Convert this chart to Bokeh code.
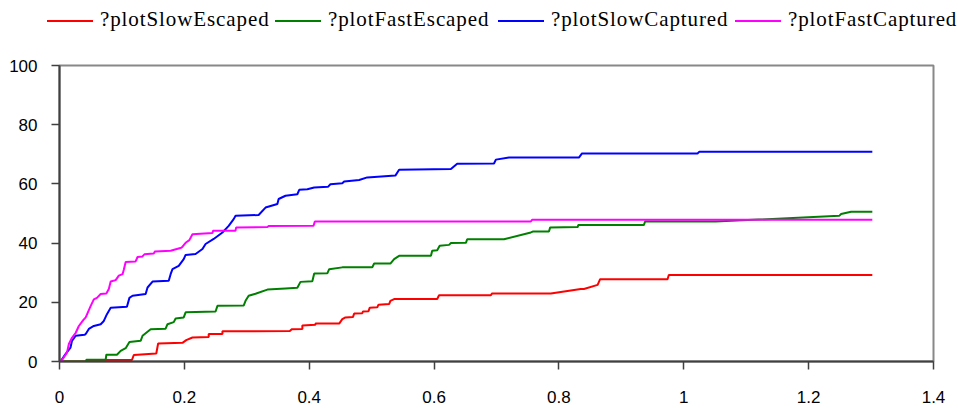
from bokeh.plotting import figure
from bokeh.layouts import column
from bokeh.models import Range1d, FixedTicker, Div
from bokeh.embed import file_html
from bokeh.resources import INLINE

# ---- data ----
series_names = ["?plotSlowEscaped", "?plotFastEscaped", "?plotSlowCaptured", "?plotFastCaptured"]
series_colors = ["#FF0000", "#008000", "#0000FF", "#FF00FF"]

slow_escaped_x = [0, 0.044, 0.046, 0.116, 0.119, 0.155, 0.158, 0.197, 0.203, 0.213, 0.239, 0.239, 0.261, 0.261,
                  0.369, 0.372, 0.389, 0.389, 0.41, 0.41, 0.448, 0.453, 0.458, 0.470, 0.472, 0.485, 0.486, 0.495,
                  0.497, 0.509, 0.511, 0.528, 0.530, 0.536, 0.605, 0.608, 0.691, 0.693, 0.787, 0.835, 0.840,
                  0.862, 0.866, 0.974, 0.976, 1.302]
slow_escaped_y = [0, 0, 0.5, 0.5, 2.2, 2.7, 6.1, 6.3, 7.2, 8.1, 8.3, 9.3, 9.3, 10.2,
                  10.3, 10.9, 11.0, 12.2, 12.4, 12.8, 12.8, 14.3, 14.9, 15.0, 16.2, 16.3, 16.9, 17.0,
                  18.2, 18.3, 19.2, 19.4, 20.5, 21.1, 21.1, 22.4, 22.4, 23.0, 23.0, 24.5, 24.5,
                  25.9, 27.8, 27.8, 29.2, 29.2]

fast_escaped_x = [0, 0.042, 0.043, 0.074, 0.075, 0.092, 0.098, 0.106, 0.112, 0.130, 0.133, 0.146, 0.170, 0.173,
                  0.183, 0.186, 0.199, 0.202, 0.250, 0.253, 0.295, 0.298, 0.303, 0.314, 0.333, 0.362, 0.381,
                  0.386, 0.405, 0.408, 0.429, 0.432, 0.453, 0.501, 0.504, 0.530, 0.536, 0.544, 0.595, 0.597,
                  0.605, 0.609, 0.624, 0.627, 0.651, 0.653, 0.712, 0.755, 0.758, 0.784, 0.786, 0.830, 0.831,
                  0.936, 0.938, 1.051, 1.249, 1.252, 1.268, 1.302]
fast_escaped_y = [0, 0, 0.6, 0.6, 2.3, 2.3, 3.6, 4.5, 6.6, 7.0, 8.7, 10.9, 11.1, 12.6,
                  13.3, 14.5, 14.9, 16.6, 16.9, 18.8, 18.9, 20.5, 22.2, 22.9, 24.3, 24.7, 24.9,
                  26.9, 27.1, 29.7, 29.8, 31.2, 31.8, 31.8, 33.1, 33.1, 34.6, 35.7, 35.7, 37.4,
                  37.6, 39.1, 39.4, 40.0, 40.1, 41.3, 41.3, 43.6, 43.9, 43.9, 45.3, 45.4, 46.1,
                  46.1, 47.3, 47.3, 49.2, 49.8, 50.6, 50.6]

slow_captured_x = [0, 0.0016, 0.0096, 0.0176, 0.020, 0.026, 0.040, 0.042, 0.047, 0.055, 0.066, 0.071, 0.076,
                   0.082, 0.108, 0.112, 0.117, 0.138, 0.141, 0.149, 0.175, 0.178, 0.181, 0.191, 0.199, 0.202,
                   0.218, 0.229, 0.234, 0.247, 0.261, 0.271, 0.279, 0.282, 0.319, 0.330, 0.349, 0.351, 0.362,
                   0.381, 0.384, 0.397, 0.408, 0.430, 0.434, 0.453, 0.456, 0.480, 0.493, 0.538, 0.544, 0.627,
                   0.637, 0.696, 0.699, 0.720, 0.832, 0.837, 1.022, 1.025, 1.302]
slow_captured_y = [0, 0, 2.5, 4.7, 7.0, 8.7, 9.0, 9.3, 11.0, 12.0, 12.6, 13.7, 16.0,
                   18.2, 18.5, 21.5, 22.2, 22.8, 25.0, 27.0, 27.3, 29.5, 31.2, 32.3, 34.6, 36.0,
                   36.3, 38.0, 39.7, 41.4, 43.6, 45.8, 48.1, 49.2, 49.5, 52.0, 53.2, 54.9, 56.0,
                   56.5, 58.0, 58.2, 58.8, 59.0, 59.9, 60.2, 60.8, 61.3, 62.2, 62.8, 64.8, 65.0,
                   66.8, 66.9, 68.2, 68.9, 68.9, 70.3, 70.3, 70.9, 70.9]

fast_captured_x = [0, 0.004, 0.012, 0.015, 0.020, 0.026, 0.031, 0.038, 0.042, 0.050, 0.055, 0.060, 0.066,
                   0.075, 0.079, 0.082, 0.090, 0.095, 0.101, 0.103, 0.106, 0.122, 0.125, 0.133, 0.136, 0.151,
                   0.153, 0.178, 0.195, 0.197, 0.202, 0.208, 0.213, 0.245, 0.246, 0.282, 0.283, 0.333, 0.335,
                   0.407, 0.409, 0.755, 0.757, 1.302]
fast_captured_y = [0, 0.5, 3.0, 5.9, 8.0, 9.7, 12.0, 14.0, 14.9, 18.8, 21.0, 21.5, 22.8,
                   23.0, 24.5, 27.0, 27.5, 29.0, 29.5, 31.0, 33.6, 33.8, 35.3, 35.5, 36.2, 36.5,
                   37.2, 37.4, 38.4, 38.8, 40.1, 41.0, 43.0, 43.4, 44.2, 44.2, 45.3, 45.4, 45.8,
                   45.9, 47.3, 47.3, 47.9, 47.9]

x_ticks = [0, 0.2, 0.4, 0.6, 0.8, 1, 1.2, 1.4]
x_tick_labels = ["0", "0.2", "0.4", "0.6", "0.8", "1", "1.2", "1.4"]
y_ticks = [0, 20, 40, 60, 80, 100]
y_tick_labels = ["0", "20", "40", "60", "80", "100"]

data = [(slow_escaped_x, slow_escaped_y), (fast_escaped_x, fast_escaped_y),
        (slow_captured_x, slow_captured_y), (fast_captured_x, fast_captured_y)]

# ---- legend strip (HTML, on top) ----
legend_left = [47, 275, 498, 735]   # pixel position of each legend entry
parts = []
for name, col, lx in zip(series_names, series_colors, legend_left):
    parts.append(
        f'<div style="position:absolute;left:{lx}px;top:20px;width:46px;height:0;'
        f'border-top:2px solid {col};"></div>'
        f'<span style="position:absolute;left:{lx + 53}px;top:7px;font-family:\'Liberation Serif\';'
        f'font-size:21px;line-height:24px;letter-spacing:0.9px;color:black;white-space:nowrap;">{name}</span>'
    )
legend_html = ('<div style="position:relative;width:958px;height:40px;margin:0;padding:0;">'
               + "".join(parts) + '</div>')
leg = Div(text=legend_html, width=958, height=40, margin=0)

# ---- main figure ----
fig = figure(width=958, height=368, output_backend="svg", toolbar_location=None,
             x_range=Range1d(0, 1.4), y_range=Range1d(0, 100),
             min_border_left=59, min_border_right=25, min_border_top=25, min_border_bottom=47)
fig.background_fill_color = "white"
fig.border_fill_color = "white"
fig.xgrid.visible = False
fig.ygrid.visible = False
fig.outline_line_color = "#888888"
fig.outline_line_width = 2

for ax, ticks, labels in ((fig.xaxis[0], x_ticks, x_tick_labels), (fig.yaxis[0], y_ticks, y_tick_labels)):
    ax.ticker = FixedTicker(ticks=ticks)
    ax.major_label_overrides = {t: l for t, l in zip(ticks, labels)}
    ax.axis_line_color = "#404040"
    ax.axis_line_width = 2
    ax.major_tick_line_color = "#404040"
    ax.major_tick_line_width = 1.5
    ax.major_tick_out = 8
    ax.major_tick_in = 0
    ax.minor_tick_out = 0
    ax.minor_tick_in = 0
    ax.major_label_text_font = "Liberation Sans"
    ax.major_label_text_font_size = "17px"
    ax.major_label_text_color = "black"

fig.yaxis[0].major_label_standoff = 14
fig.xaxis[0].major_label_standoff = 21

for (xs, ys), col in zip(data, series_colors):
    fig.line(xs, ys, line_color=col, line_width=2)

p = column(leg, fig, spacing=0)

open("out.html", "w").write(file_html(p, INLINE))
